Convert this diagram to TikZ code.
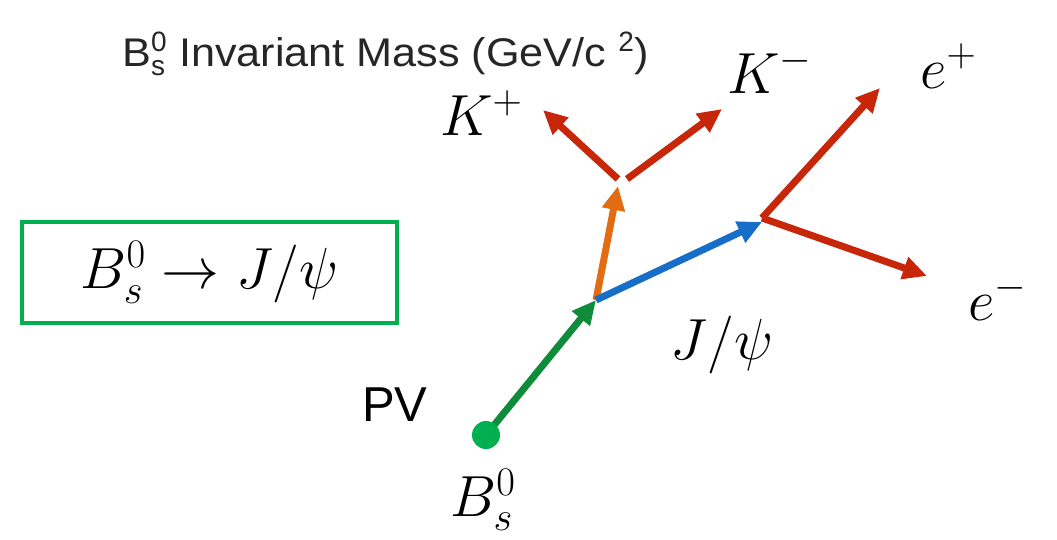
\documentclass[tikz,border=0pt]{standalone}
\usepackage{fix-cm}
\usepackage{amsmath}
\usepackage{fontspec}
\setsansfont{Liberation Sans}
\usetikzlibrary{arrows.meta}

\definecolor{trkred}{RGB}{200,38,8}
\definecolor{trkorange}{RGB}{226,108,18}
\definecolor{trkblue}{RGB}{22,110,200}
\definecolor{trkgreen}{RGB}{14,140,58}
\definecolor{pvgreen}{RGB}{0,176,80}

\tikzset{
  track/.style={line width=7pt, -{Triangle[length=24pt,width=22pt]}},
  mlabel/.style={font=\fontsize{58}{64}\selectfont, inner sep=0pt},
}

\begin{document}
\begin{tikzpicture}[x=1pt, y=-1pt]
  \useasboundingbox (0,0) rectangle (1057,539);

  % Titel
  \node[anchor=base west, inner sep=0pt, text=black!85,
        font=\sffamily\fontsize{40}{44}\selectfont\addfontfeature{FakeStretch=1.08}] (title) at (122,66)
    {B$^{\textsf{0}}_{\textsf{s}}$ Invariant Mass (GeV/c $^{\textsf{2}}$)};

  % Zerfallskanal
  \node[draw=pvgreen, line width=4pt, minimum width=375pt, minimum height=101pt,
        mlabel] (chan) at (209.5,272.5)
    {$B_s^0 \rightarrow J/\psi$};

  % Vertices
  \coordinate (pv) at (486,435);
  \coordinate (sv) at (596,300);
  \coordinate (kv) at (618,186);
  \coordinate (ev) at (762,222);
  \coordinate (kp) at (543,110);
  \coordinate (km) at (722,109);
  \coordinate (ep) at (880,88);
  \coordinate (em) at (927,276);

  % Spuren
  \draw[track, trkgreen] (pv) -- (sv);
  \draw[track, trkorange] (sv) -- (kv);
  \draw[track, trkblue] (sv) -- (ev);
  \draw[track, trkred] ([yshift=7]kv) -- (kp);
  \draw[track, trkred] ([xshift=9,yshift=7]kv) -- (km);
  \draw[track, trkred] ([yshift=4]ev) -- (ep);
  \draw[track, trkred] ([yshift=4]ev) -- (em);
  \fill[pvgreen] (pv) circle (14);

  % Beschriftungen
  \node[mlabel, anchor=base west] (lkp) at (440,135) {$K^+$};
  \node[mlabel, anchor=base west] (lkm) at (727,93) {$K^-$};
  \node[mlabel, anchor=base west] (lep) at (920,88) {$e^+$};
  \node[mlabel, anchor=base west] (lem) at (968,320) {$e^-$};
  \node[mlabel] (ljpsi) at (722,345) {$J/\psi$};
  \node[mlabel] (lbs) at (483,500) {$B_s^0$};
  \node[anchor=base west, inner sep=0pt,
        font=\sffamily\fontsize{49}{54}\selectfont] (lpv) at (362,421) {PV};
\end{tikzpicture}
\end{document}
